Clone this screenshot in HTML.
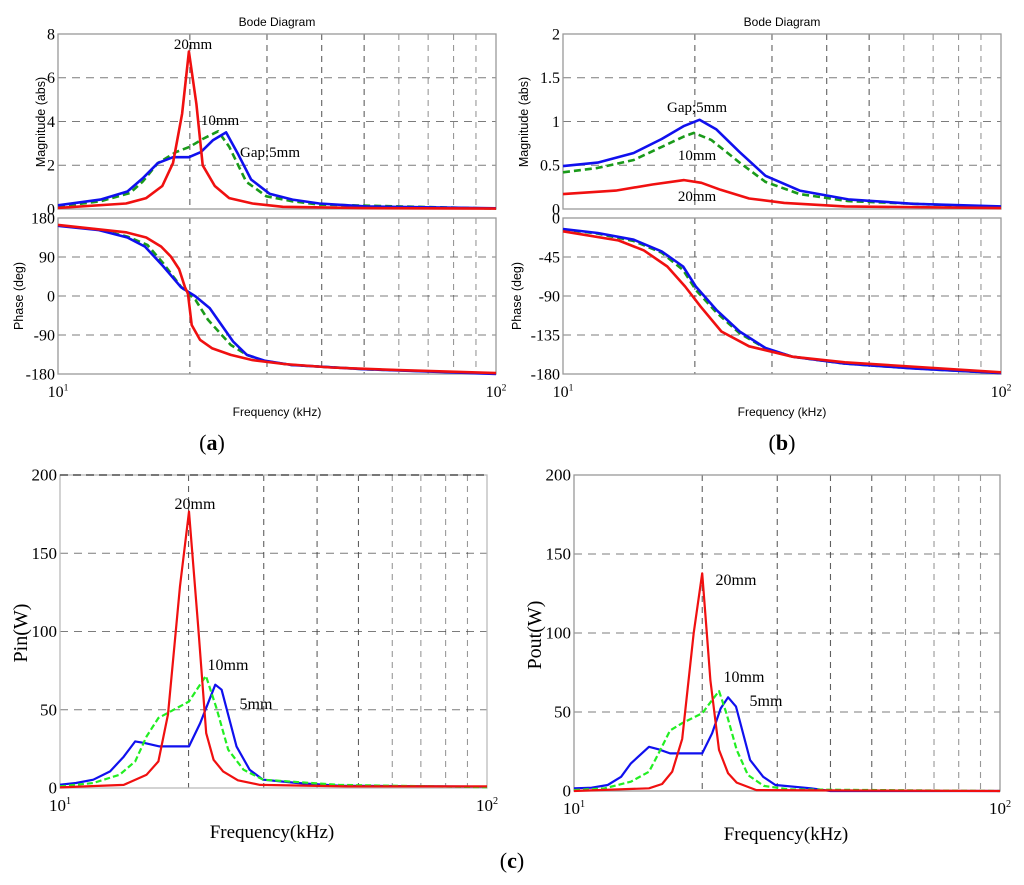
<!DOCTYPE html>
<html><head><meta charset="utf-8">
<style>
html,body{margin:0;padding:0;background:#fff;}
svg{display:block;}
.sans{font-family:"Liberation Sans",sans-serif;}
.serif{font-family:"Liberation Serif",serif;}
</style></head>
<body>
<svg id="fig" width="1024" height="885" viewBox="0 0 1024 885" xmlns="http://www.w3.org/2000/svg"></svg>
<script>
// ---- Panel (a) magnitude ----
const aMagRedF=[10,14.3,15.9,17.3,18.3,19.2,19.9,20.7,21.4,22.8,24.6,27.8,32.6,50,100];
const aMagRedV=[0.05,0.25,0.5,1.05,2.1,4.35,7.2,4.8,2.0,1.05,0.5,0.25,0.1,0.04,0.02];
const aMagBlueF=[10,12.5,14.4,15.6,16.9,18.3,19.9,21.2,22.6,24.2,25.7,27.6,30.4,34.3,39.5,50.5,100];
const aMagBlueV=[0.17,0.43,0.8,1.4,2.1,2.37,2.37,2.6,3.15,3.5,2.55,1.35,0.7,0.43,0.25,0.12,0.03];
const aMagGreenF=[10,12.5,14.6,15.6,16.9,18.6,20,21.4,23.2,24.6,26.9,29.9,34.3,39.5,100];
const aMagGreenV=[0.12,0.35,0.73,1.25,2.1,2.6,2.85,3.2,3.55,2.85,1.25,0.58,0.35,0.2,0.02];
// ---- Panel (a) phase ----
const aPhRedF=[10,14.3,15.9,17.2,18.1,18.9,19.5,19.8,20.2,21.1,22.5,24.8,27.8,32.8,42,60,100];
const aPhRedV=[164,147,135,114,91,62,20,6,-67,-101,-121,-136,-148,-157,-165,-171,-178];
const aPhBlueF=[10,12.4,14.4,15.8,17.4,19.1,20.6,22.2,25.1,27.0,29.6,34,50,100];
const aPhBlueV=[162,152,135,114,68,20,-1,-28,-105,-136,-149,-159,-169,-180];
const aPhGreenF=[10,12.4,14.4,16.0,17.4,19.1,20.6,22.0,24.8,27.0,29.6,34,50,100];
const aPhGreenV=[163,153,137,118,75,21,-9,-55,-113,-136,-150,-159,-169,-179];
// ---- Panel (b) magnitude ----
const bMagBlueF=[10,12,14.5,16.8,18.9,20.5,22.4,25.3,29.0,34.7,44.8,63,100];
const bMagBlueV=[0.49,0.53,0.64,0.8,0.95,1.02,0.91,0.65,0.38,0.21,0.11,0.06,0.03];
const bMagGreenF=[10,12,14.5,16.8,18.9,19.9,21.8,25.3,29.0,34.7,44.8,100];
const bMagGreenV=[0.42,0.47,0.56,0.71,0.83,0.87,0.79,0.53,0.31,0.17,0.09,0.02];
const bMagRedF=[10,13.2,16,18.9,20.7,22.9,26.6,32,44,100];
const bMagRedV=[0.17,0.21,0.28,0.33,0.3,0.22,0.12,0.07,0.03,0.01];
// ---- Panel (b) phase ----
const bPhBlueF=[10,12,14.5,16.8,18.8,20.1,22.4,25.3,29.0,33.4,44,63,100];
const bPhBlueV=[-12.7,-17.3,-25,-38.5,-56,-79,-106,-131,-150,-160,-168,-173.5,-179];
const bPhGreenF=[10,12,14.5,16.8,18.8,20.1,22.4,25.3,29.0,33.4,44,63,100];
const bPhGreenV=[-13,-18,-26.5,-40,-60,-83,-109,-133,-150.5,-160,-168,-173.5,-179];
const bPhRedF=[10,13.4,15.3,17.3,19.0,20.6,23.0,26.6,33.4,44,100];
const bPhRedV=[-15.4,-26,-37.4,-56,-79,-102,-131,-148,-160,-166.5,-178];
// ---- Panel (c) Pin ----
const cPinRedF=[10,14.1,15.95,17.0,17.9,19.1,20.05,21.07,22.0,22.9,24.1,26.1,29.4,47,100];
const cPinRedV=[0.4,2,8.5,17,47,129,176.6,103,35,18,10.6,4.9,2,1,1];
const cPinBlueF=[10,10.9,11.97,13.1,14.1,15.0,15.8,17.1,20.05,21.3,23.1,23.9,25.9,27.8,29.9,36,45,100];
const cPinBlueV=[2.1,3.2,5.3,10.6,20,29.8,28.7,26.6,26.6,41.5,66,62.8,26.6,11.7,5.3,3.2,1.5,0.8];
const cPinGreenF=[10,11.97,13.8,15.0,15.95,17.0,18.75,20.05,21.96,23.26,24.77,26.9,29.9,45,100];
const cPinGreenV=[1,3.2,8.5,17,33,44.7,51,55.3,71.7,51,24.5,11.7,5.3,2,0.5];
// ---- Panel (c) Pout ----
const cPoutRedF=[10,15.0,16.1,17.0,17.95,19.1,20.0,20.5,20.9,21.9,23.0,24.1,26.8,100];
const cPoutRedV=[0,1.7,4.4,12.2,33,100,137.8,100,70,26,11.2,5.3,0.6,0];
const cPoutBlueF=[10,11.0,12.0,12.9,13.6,15.0,15.8,16.8,20.0,21.1,22.1,23.0,24.0,25.9,27.8,29.7,36,40,100];
const cPoutBlueV=[1.7,2.1,3.8,9,17.5,28,26.4,23.8,23.8,36.5,52.3,59.3,53.4,19.6,9,3.8,1.7,0,0];
const cPoutGreenF=[10,11.8,13.6,15.0,15.8,16.8,17.9,20.0,21.9,22.8,24.1,25.6,27.9,32,100];
const cPoutGreenV=[0.6,1.7,5.9,12.2,23.8,38.2,42.8,49.2,63.3,49,26,10.1,3.2,1,0];

const svg=document.getElementById('fig');
const NS='http://www.w3.org/2000/svg';
function mk(tag,attrs,parent){const e=document.createElementNS(NS,tag);for(const k in attrs)e.setAttribute(k,attrs[k]);(parent||svg).appendChild(e);return e;}
function txt(s,x,y,cls,size,anchor,name,extra){const t=mk('text',Object.assign({x:x,y:y,'class':cls,'font-size':size,'text-anchor':anchor||'middle'},extra||{}));t.textContent=s;


return t;}

function axes(p){
  p.xs=f=>p.x0+(p.x1-p.x0)*Math.log10(f/10);
  p.ys=v=>p.y1-(p.y1-p.y0)*(v-p.vmin)/(p.vmax-p.vmin);
  const g=mk('g',{});
  
  
  p.g=g;
  for(let f=20;f<=90;f+=10){const x=p.xs(f);
    const l=mk('line',{x1:x,x2:x,y1:p.y0,y2:p.y1,stroke:'#444','stroke-width':1.1,'stroke-dasharray':'6,5','stroke-opacity':f>=60?0.55:0.85},g);
    
    }
  p.ticks.forEach(v=>{if(v===p.vmin||v===p.vmax)return;const y=p.ys(v);
    const l=mk('line',{x1:p.x0,x2:p.x1,y1:y,y2:y,stroke:'#444','stroke-width':1.1,'stroke-dasharray':'8,6','stroke-opacity':0.7},g);
    
    });
  const r=mk('rect',{x:p.x0,y:p.y0,width:p.x1-p.x0,height:p.y1-p.y0,fill:'none',stroke:p.topDash?'#bbb':'#999','stroke-width':1.3},g);
  
  
  if(p.topDash){const l=mk('line',{x1:p.x0,x2:p.x1,y1:p.y0,y2:p.y0,stroke:'#333','stroke-width':1.3,'stroke-dasharray':'8,5'},g);
    
    }
  p.ticks.forEach((v,i)=>{txt(p.tickLabels[i],p.x0-3,p.ys(v)+p.fs*0.33,'serif',p.fs,'end','y-tick-label');});
  return p;
}
function series(p,F,V,color,dash,w,name){
  const pts=F.map((f,i)=>p.xs(f).toFixed(1)+','+p.ys(V[i]).toFixed(1)).join(' ');
  const a={points:pts,fill:'none',stroke:color,'stroke-width':w,'stroke-linejoin':'round'};
  if(dash)a['stroke-dasharray']=dash;
  const pl=mk('polyline',a,p.g);
  
  
}
function xlabels(p,y,fs){
  [[p.x0,'1'],[p.x1,'2']].forEach(([x,e])=>{
    const t=txt('10',x,y,'serif',fs,'middle','x-tick-label');
    const s=mk('tspan',{dy:-fs*0.4,'font-size':fs*0.6},t);s.textContent=e;});
}

// ---- (a) ----
const aTL=[0,2,4,6,8];
const pa1=axes({name:'panel-a-magnitude',x0:58,x1:496,y0:34,y1:209,vmin:0,vmax:8,ticks:aTL,tickLabels:aTL.map(String),fs:16});
series(pa1,aMagGreenF,aMagGreenV,'#1a9a1a','7,4',2.6,'green-10mm-magnitude');
series(pa1,aMagBlueF,aMagBlueV,'#1010ee',null,2.6,'blue-5mm-magnitude');
series(pa1,aMagRedF,aMagRedV,'#f01010',null,2.6,'red-20mm-magnitude');
const aPT=[-180,-90,0,90,180];
const pa2=axes({name:'panel-a-phase',x0:58,x1:496,y0:218,y1:374,vmin:-180,vmax:180,ticks:aPT,tickLabels:aPT.map(String),fs:16});
series(pa2,aPhGreenF,aPhGreenV,'#1a9a1a','7,4',2.6,'green-10mm-phase');
series(pa2,aPhBlueF,aPhBlueV,'#1010ee',null,2.6,'blue-5mm-phase');
series(pa2,aPhRedF,aPhRedV,'#f01010',null,2.6,'red-20mm-phase');
xlabels(pa2,397,16);
txt('Bode Diagram',277,26,'sans',12,'middle','chart-title-a');
txt('Magnitude (abs)',0,0,'sans',12.5,'middle','y-axis-title-magnitude-a',{transform:'translate(45,122) rotate(-90)'});
txt('Phase (deg)',0,0,'sans',12.5,'middle','y-axis-title-phase-a',{transform:'translate(23,296) rotate(-90)'});
txt('Frequency  (kHz)',277,416,'sans',12,'middle','x-axis-title-a');
txt('20mm',193,49,'serif',15,'middle','label-20mm-a');
txt('10mm',220,125,'serif',15,'middle','label-10mm-a');
txt('Gap:5mm',240,157,'serif',15,'start','label-5mm-a');
const la=txt('(',212,450,'serif',22,'middle','caption-a');la.innerHTML='(<tspan font-weight="bold">a</tspan>)';

// ---- (b) ----
const bTL=[0,0.5,1,1.5,2];
const pb1=axes({name:'panel-b-magnitude',x0:563,x1:1001,y0:34,y1:209,vmin:0,vmax:2,ticks:bTL,tickLabels:['0','0.5','1','1.5','2'],fs:16});
series(pb1,bMagGreenF,bMagGreenV,'#1a9a1a','7,4',2.6,'green-10mm-magnitude');
series(pb1,bMagBlueF,bMagBlueV,'#1010ee',null,2.6,'blue-5mm-magnitude');
series(pb1,bMagRedF,bMagRedV,'#f01010',null,2.6,'red-20mm-magnitude');
const bPT=[-180,-135,-90,-45,0];
const pb2=axes({name:'panel-b-phase',x0:563,x1:1001,y0:218,y1:374,vmin:-180,vmax:0,ticks:bPT,tickLabels:bPT.map(String),fs:16});
series(pb2,bPhGreenF,bPhGreenV,'#1a9a1a','7,4',2.6,'green-10mm-phase');
series(pb2,bPhBlueF,bPhBlueV,'#1010ee',null,2.6,'blue-5mm-phase');
series(pb2,bPhRedF,bPhRedV,'#f01010',null,2.6,'red-20mm-phase');
xlabels(pb2,397,16);
txt('Bode Diagram',782,26,'sans',12,'middle','chart-title-b');
txt('Magnitude (abs)',0,0,'sans',12.5,'middle','y-axis-title-magnitude-b',{transform:'translate(528,122) rotate(-90)'});
txt('Phase (deg)',0,0,'sans',12.5,'middle','y-axis-title-phase-b',{transform:'translate(521,296) rotate(-90)'});
txt('Frequency  (kHz)',782,416,'sans',12,'middle','x-axis-title-b');
txt('Gap;5mm',697,112,'serif',15,'middle','label-5mm-b');
txt('10mm',697,160,'serif',15,'middle','label-10mm-b');
txt('20mm',697,201,'serif',15,'middle','label-20mm-b');
const lb=txt('(',782,450,'serif',22,'middle','caption-b');lb.innerHTML='(<tspan font-weight="bold">b</tspan>)';

// ---- (c) ----
const cTL=[0,50,100,150,200];
const pc1=axes({name:'panel-c-pin',x0:60,x1:487,y0:475,y1:788,vmin:0,vmax:200,ticks:cTL,tickLabels:cTL.map(String),fs:17,topDash:true});
series(pc1,cPinBlueF,cPinBlueV,'#1010ee',null,2.2,'blue-5mm-pin');
series(pc1,cPinGreenF,cPinGreenV,'#22ee22','6,3',2.2,'green-10mm-pin');
series(pc1,cPinRedF,cPinRedV,'#f01010',null,2.2,'red-20mm-pin');
xlabels(pc1,811,17);
txt('Pin(W)',0,0,'serif',20,'middle','y-axis-title-pin',{transform:'translate(27,633) rotate(-90)'});
txt('Frequency(kHz)',272,838,'serif',19,'middle','x-axis-title-pin');
txt('20mm',195,509,'serif',16,'middle','label-20mm-pin');
txt('10mm',228,670,'serif',16,'middle','label-10mm-pin');
txt('5mm',256,709,'serif',16,'middle','label-5mm-pin');
const pc2=axes({name:'panel-c-pout',x0:574,x1:1000,y0:475,y1:791,vmin:0,vmax:200,ticks:cTL,tickLabels:cTL.map(String),fs:17});
series(pc2,cPoutBlueF,cPoutBlueV,'#1010ee',null,2.2,'blue-5mm-pout');
series(pc2,cPoutGreenF,cPoutGreenV,'#22ee22','6,3',2.2,'green-10mm-pout');
series(pc2,cPoutRedF,cPoutRedV,'#f01010',null,2.2,'red-20mm-pout');
xlabels(pc2,814,17);
txt('Pout(W)',0,0,'serif',20,'middle','y-axis-title-pout',{transform:'translate(541,635) rotate(-90)'});
txt('Frequency(kHz)',786,840,'serif',19,'middle','x-axis-title-pout');
txt('20mm',736,585,'serif',16,'middle','label-20mm-pout');
txt('10mm',744,682,'serif',16,'middle','label-10mm-pout');
txt('5mm',766,706,'serif',16,'middle','label-5mm-pout');
const lc=txt('(',512,868,'serif',22,'middle','caption-c');lc.innerHTML='(<tspan font-weight="bold">c</tspan>)';
</script>
</body></html>
